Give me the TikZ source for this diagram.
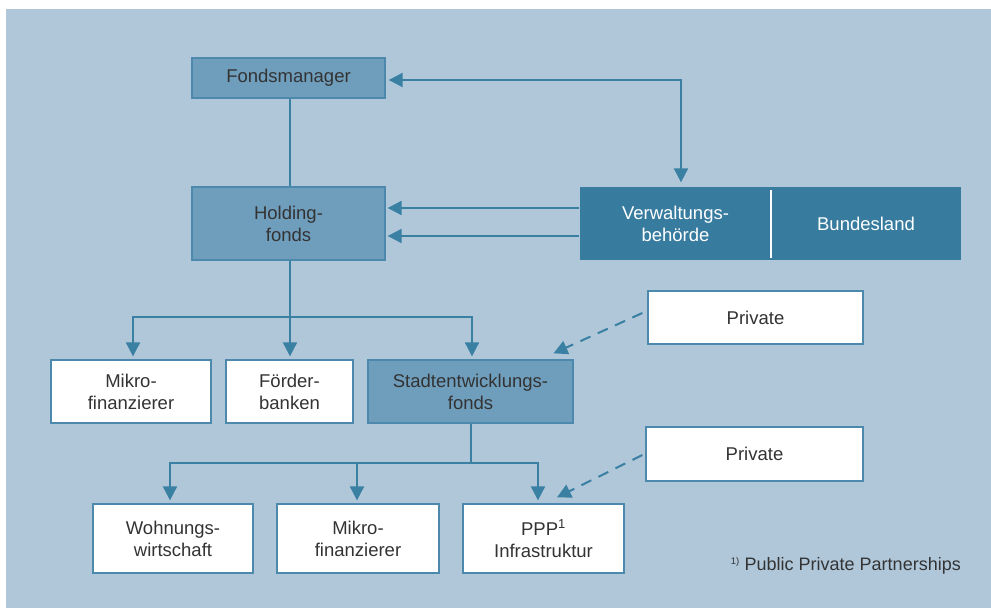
\documentclass[tikz,border=0pt]{standalone}
\usepackage{fontspec}
\setmainfont{Liberation Sans}
\usetikzlibrary{arrows.meta}
\definecolor{bgblue}{HTML}{B0C7DA}
\definecolor{midblue}{HTML}{6F9EBD}
\definecolor{midedge}{HTML}{4C89AD}
\definecolor{darkblue}{HTML}{377B9F}
\definecolor{linecol}{HTML}{3A80A3}
\definecolor{txt}{HTML}{333333}
\tikzset{
  base/.style={rectangle, inner sep=0pt, align=center, text=txt,
    font=\fontsize{18.5}{22}\selectfont, line width=1.3pt},
  midbox/.style={base, fill=midblue, draw=midedge},
  whitebox/.style={base, fill=white, draw=midedge},
  darkbox/.style={base, fill=darkblue, text=white},
  conn/.style={draw=linecol, line width=2pt},
  arr/.style={conn, -{Triangle[length=14pt,width=14pt]}, shorten >=3pt},
  darr/.style={conn, {Triangle[length=14pt,width=14pt]}-{Triangle[length=14pt,width=14pt]}, shorten >=3pt, shorten <=4pt},
  dasharr/.style={conn, dash pattern=on 11pt off 8pt, -{Triangle[length=14pt,width=14pt]}}
}
\begin{document}
\begin{tikzpicture}[x=1pt,y=-1pt]
\useasboundingbox (0,0) rectangle (991,608);
\fill[bgblue] (6,9) rectangle (991,608);

% nodes
\node[midbox, minimum width=193pt, minimum height=40pt] (fm) at (288.5,78) {Fondsmanager};
\node[midbox, minimum width=193pt, minimum height=73pt] (hf) at (288.5,223.5) {Holding-\\fonds};
\node[darkbox, minimum width=191pt, minimum height=73pt] (vb) at (675.5,223.5) {Verwaltungs-\\behörde};
\node[darkbox, minimum width=190pt, minimum height=73pt] (bl) at (866,223.5) {Bundesland};
\draw[white, line width=2.2pt] (771,190) -- (771,258);

\node[whitebox, minimum width=160pt, minimum height=63pt] (mf1) at (131,391.5) {Mikro-\\finanzierer};
\node[whitebox, minimum width=127pt, minimum height=63pt] (fb) at (289.5,391.5) {Förder-\\banken};
\node[midbox, minimum width=205pt, minimum height=63pt] (sf) at (470.5,391.5) {Stadtentwicklungs-\\fonds};

\node[whitebox, minimum width=215pt, minimum height=53pt] (pr1) at (755.5,317.5) {Private};
\node[whitebox, minimum width=217pt, minimum height=54pt] (pr2) at (754.5,454) {Private};

\node[whitebox, minimum width=160pt, minimum height=69pt] (ww) at (173,538.5) {Wohnungs-\\wirtschaft};
\node[whitebox, minimum width=162pt, minimum height=69pt] (mf2) at (358,538.5) {Mikro-\\finanzierer};
\node[whitebox, minimum width=161pt, minimum height=69pt] (ppp) at (543.5,538.5) {PPP\textsuperscript{1}\\Infrastruktur};

\node[anchor=east, inner sep=0pt, text=txt, font=\fontsize{18}{22}\selectfont] (fn) at (961,566) {\textsuperscript{\fontsize{9.5}{9.5}\selectfont 1)} Public Private Partnerships};

% connectors
\coordinate (fmr) at ([yshift=-2pt]fm.east);
\coordinate (vbt) at ([xshift=5.5pt]vb.north);
\draw[darr] (vbt) |- (fmr);

\draw[conn] ([xshift=1.5pt]fm.south) -- ([xshift=1.5pt]hf.north);
\draw[arr, shorten >=2pt] ([yshift=15.5pt]vb.west) -- ([yshift=15.5pt]hf.east);
\draw[arr, shorten >=2pt] ([yshift=-12.5pt]vb.west) -- ([yshift=-12.5pt]hf.east);

\coordinate (j1) at (290,317);
\draw[conn] ([xshift=1.5pt]hf.south) -- (j1);
\draw[arr] (j1) -| ([xshift=2pt]mf1.north);
\draw[arr] (j1) -- ([xshift=0.5pt]fb.north);
\draw[arr] (j1) -| ([xshift=1.5pt]sf.north);

\coordinate (j2) at (470.5,463);
\draw[conn] (sf.south) -- (j2);
\draw[arr] (j2) -| ([xshift=-3pt]ww.north);
\draw[arr] (j2) -| ([xshift=-1pt]mf2.north);
\draw[arr] (j2) -| ([xshift=-5.5pt]ppp.north);

\coordinate (d1s) at ([xshift=-5pt,yshift=4.5pt]pr1.west);
\coordinate (d1e) at ([xshift=83pt,yshift=6pt]sf.north);
\draw[dasharr] (d1s) -- (d1e);
\coordinate (d2s) at ([xshift=-3pt,yshift=-1pt]pr2.west);
\coordinate (d2e) at ([xshift=13.5pt,yshift=6pt]ppp.north);
\draw[dasharr] (d2s) -- (d2e);
\end{tikzpicture}
\end{document}
